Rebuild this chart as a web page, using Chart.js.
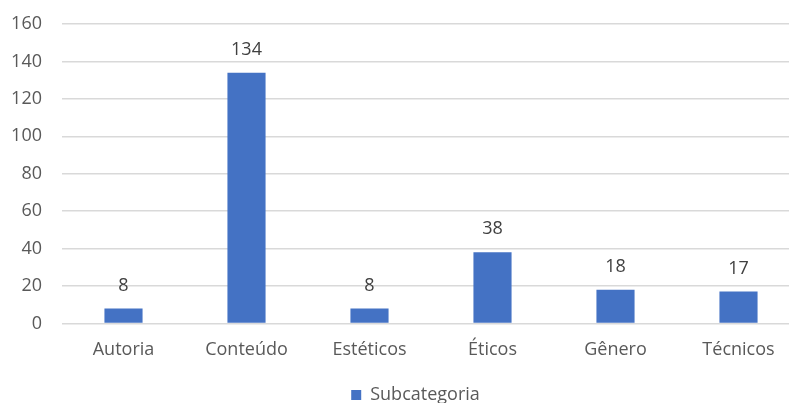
<!DOCTYPE html>
<html>
<head>
<meta charset="utf-8">
<script src="https://cdn.jsdelivr.net/npm/chart.js@4"></script>
<style>
  html, body { margin: 0; padding: 0; background: #fff; overflow: hidden; }
  #wrap { width: 800px; height: 403px; }
</style>
</head>
<body>
<div id="wrap"><canvas id="myChart"></canvas></div>
<script>
const categories = ['Autoria', 'Conteúdo', 'Estéticos', 'Éticos', 'Gênero', 'Técnicos'];
const subcategoria = [8, 134, 8, 38, 18, 17];
const seriesName = 'Subcategoria';

const FONT = "'Open Sans', sans-serif";

// value labels above each bar
const valueLabels = {
    id: 'valueLabels',
    afterDatasetsDraw(chart) {
        const c = chart.ctx;
        const meta = chart.getDatasetMeta(0);
        c.save();
        c.font = '18px ' + FONT;
        c.fillStyle = '#404040';
        c.textAlign = 'center';
        c.textBaseline = 'middle';
        meta.data.forEach((bar, i) => {
            c.fillText(String(chart.data.datasets[0].data[i]), bar.x, bar.y - 23);
        });
        c.restore();
    }
};

// nudge the legend right and down, closer to the bottom edge
const legendShift = {
    id: 'legendShift',
    afterLayout(chart) {
        chart.legend.left += 10;
        chart.legend.right += 10;
        chart.legend.top += 17;
        chart.legend.bottom += 17;
    }
};

const ctx = document.getElementById('myChart').getContext('2d');

new Chart(ctx, {
    type: 'bar',
    data: {
        labels: categories,
        datasets: [{
            label: seriesName,
            data: subcategoria,
            backgroundColor: '#4472C4',
            borderWidth: 0,
            barPercentage: 0.31,
            categoryPercentage: 1
        }]
    },
    options: {
        responsive: true,
        maintainAspectRatio: false,
        animation: false,
        layout: { padding: { left: 11, top: 24, right: 0, bottom: 6 } },
        scales: {
            x: {
                grid: { display: false },
                border: { display: false },
                ticks: { color: '#595959', font: { family: FONT, size: 18 }, padding: 8 }
            },
            y: {
                min: 0,
                max: 160,
                afterFit(scale) {
                    scale.width = 51;
                    scale.paddingTop = 0;
                    scale.paddingBottom = 0;
                },
                grid: { color: '#d9d9d9', lineWidth: 1.5, drawTicks: false },
                border: { display: false },
                ticks: { stepSize: 20, color: '#595959', font: { family: FONT, size: 18 }, padding: 20 }
            }
        },
        plugins: {
            tooltip: { enabled: false },
            legend: {
                position: 'bottom',
                labels: {
                    boxWidth: 10,
                    boxHeight: 10,
                    color: '#595959',
                    font: { family: FONT, size: 18 },
                    padding: 0
                }
            }
        }
    },
    plugins: [valueLabels, legendShift]
});
</script>
</body>
</html>
